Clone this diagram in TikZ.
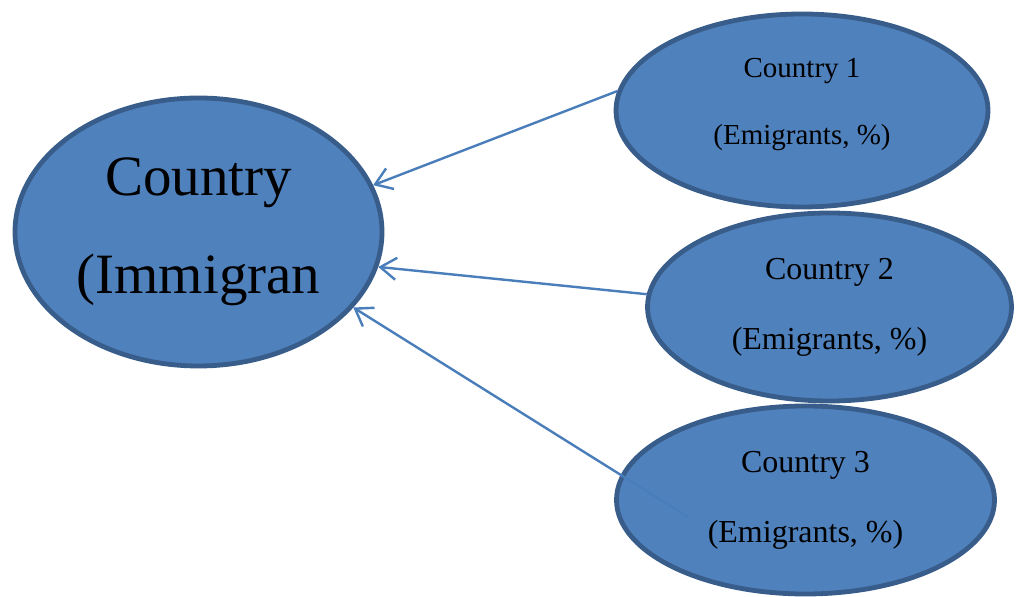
\documentclass[tikz,border=0pt]{standalone}
\usepackage{fontspec}
\setmainfont{Liberation Serif}
\usetikzlibrary{arrows.meta}
\usetikzlibrary{shapes.geometric}

\definecolor{ovalfill}{HTML}{4F81BD}
\definecolor{ovaldraw}{HTML}{385D8A}
\definecolor{linkblue}{HTML}{4A7EBB}

\begin{document}
\begin{tikzpicture}[
	x=0.5pt, y=-0.5pt,
  > = {Straight Barb[length=8pt,width=11pt]},
  oval/.style = {ellipse,draw=ovaldraw,fill=ovalfill,line width=2.4pt,inner sep=0pt,align=center},
  small text/.style = {font=\fontsize{14.5}{33.5}\selectfont},
  mid text/.style = {font=\fontsize{16}{35}\selectfont},
  link/.style = {->,draw=linkblue,line width=1.2pt}
  ]
	\useasboundingbox (0,0) rectangle (1016,597);

	\node[oval,minimum width=183.5pt,minimum height=134pt,font=\fontsize{28.5}{49}\selectfont] (host) at (198.5,232) {Country\\(Immigran};

	\node[oval,small text,text depth=9.5pt,minimum width=186pt,minimum height=96.5pt] (c1) at (802,110.5) {Country 1\\(Emigrants, \%)};
	\node[oval,mid text,minimum width=182pt,minimum height=94pt] (c2) at (829.5,307) {Country 2\\(Emigrants, \%)};
	\node[oval,mid text,minimum width=189pt,minimum height=94pt] (c3) at (805.5,500) {Country 3\\(Emigrants, \%)};

	\path (c3.center) ++(-117.5,17) coordinate (@tail3);

	\draw[link] (c1.174) -- (host.15);
	\draw[link] (c2.176) -- (host.-11);
	\draw[link] (@tail3) -- (host.-26);

\end{tikzpicture}
\end{document}
